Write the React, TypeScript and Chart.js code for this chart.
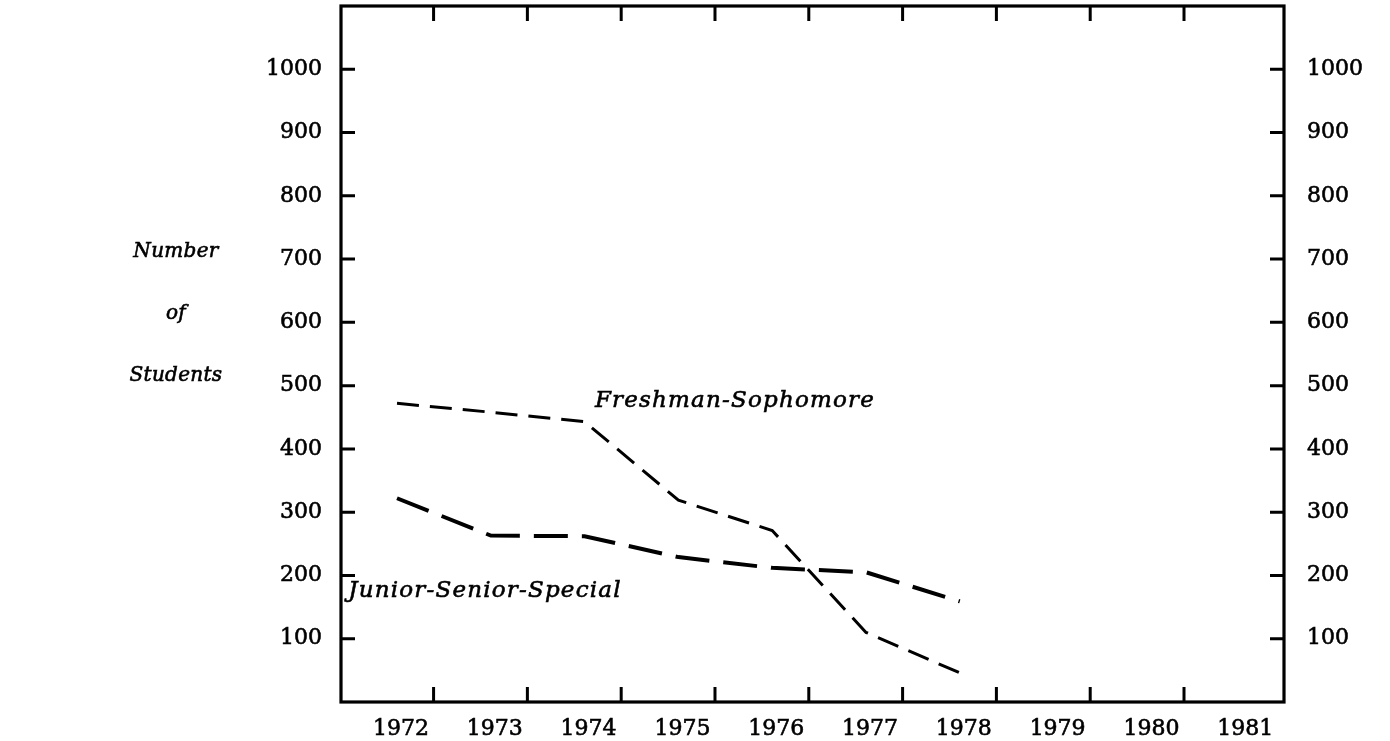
import React, { useEffect, useRef } from 'react';
import { Chart, registerables } from 'chart.js';

Chart.register(...registerables);

// ---- data ----
const years = [1972, 1973, 1974, 1975, 1976, 1977, 1978];
const freshmanSophomore = [472, 458, 443, 319, 271, 110, 46];
const juniorSeniorSpecial = [322, 263, 262, 229, 212, 205, 159];
const xTickLabels = [1972, 1973, 1974, 1975, 1976, 1977, 1978, 1979, 1980, 1981];
const yTickValues = [100, 200, 300, 400, 500, 600, 700, 800, 900, 1000];
const yAxisTitle = ['Number', 'of', 'Students'];
const seriesLabels = ['Freshman-Sophomore', 'Junior-Senior-Special'];

const X_MIN = 1971.403;
const X_MAX = 1981.456;
const Y_MIN = 0;
const Y_MAX = 1100;
const TICK_SHIFT = 0.39; // tick marks sit between year labels

const TICK_FONT = { family: '"DejaVu Serif", serif', size: 22 };

const decorPlugin = {
  id: 'decor',
  afterDraw(chart: any) {
    const { ctx, chartArea: a, scales } = chart;
    const x = scales.x;
    const y = scales.y;
    ctx.save();
    ctx.strokeStyle = '#000';
    ctx.lineCap = 'butt';
    // frame
    ctx.lineWidth = 3.2;
    ctx.strokeRect(a.left, a.top, a.right - a.left, a.bottom - a.top);
    // inward tick marks
    ctx.lineWidth = 3;
    ctx.beginPath();
    yTickValues.forEach((v) => {
      const py = y.getPixelForValue(v);
      ctx.moveTo(a.left, py);
      ctx.lineTo(a.left + 14, py);
      ctx.moveTo(a.right, py);
      ctx.lineTo(a.right - 14, py);
    });
    xTickLabels.slice(0, -1).forEach((v) => {
      const px = x.getPixelForValue(v + TICK_SHIFT);
      ctx.moveTo(px, a.bottom);
      ctx.lineTo(px, a.bottom - 15);
      ctx.moveTo(px, a.top);
      ctx.lineTo(px, a.top + 15);
    });
    ctx.stroke();

    // series labels
    ctx.fillStyle = '#000';
    ctx.strokeStyle = '#000';
    ctx.lineWidth = 0.6;
    ctx.textBaseline = 'middle';
    ctx.textAlign = 'left';
    ctx.font = 'italic 23px "DejaVu Serif", serif';
    (ctx as any).letterSpacing = '1.2px';
    const drawText = (t: string, px: number, py: number) => {
      ctx.fillText(t, px, py);
      ctx.strokeText(t, px, py);
    };
    drawText(seriesLabels[0], x.getPixelForValue(1974.11), y.getPixelForValue(476));
    drawText(seriesLabels[1], x.getPixelForValue(1971.48), y.getPixelForValue(175));

    // axis title (left, stacked)
    (ctx as any).letterSpacing = '0.3px';
    ctx.font = 'italic 20px "DejaVu Serif", serif';
    ctx.textAlign = 'center';
    const titleVals = [712, 614, 515];
    yAxisTitle.forEach((t, i) => {
      drawText(t, 176, y.getPixelForValue(titleVals[i]));
    });
    ctx.restore();
  },
};

export default function App() {
  const canvasRef = useRef<HTMLCanvasElement | null>(null);

  useEffect(() => {
    document.body.style.margin = '0';
    const canvas = canvasRef.current;
    if (!canvas) return;

    const yTicks = (scale: any) => {
      scale.ticks = yTickValues.map((v) => ({ value: v }));
    };
    const noPad = (scale: any) => {
      scale.paddingTop = 0;
      scale.paddingBottom = 0;
      scale.paddingLeft = 0;
      scale.paddingRight = 0;
    };
    const tickStyle = {
      color: '#000',
      font: TICK_FONT,
      textStrokeColor: '#000',
      textStrokeWidth: 0.6,
      callback: (v: any) => String(v),
    };

    const chart = new Chart(canvas, {
      type: 'line',
      data: {
        datasets: [
          {
            label: seriesLabels[0],
            data: years.map((yr, i) => ({ x: yr, y: freshmanSophomore[i] })),
            borderColor: '#000',
            borderWidth: 3,
            borderDash: [22, 11],
            pointRadius: 0,
            tension: 0,
            fill: false,
          },
          {
            label: seriesLabels[1],
            data: years.map((yr, i) => ({ x: yr, y: juniorSeniorSpecial[i] })),
            borderColor: '#000',
            borderWidth: 4,
            borderDash: [34, 14],
            pointRadius: 0,
            tension: 0,
            fill: false,
          },
        ],
      },
      options: {
        responsive: false,
        animation: false,
        devicePixelRatio: 1,
        layout: { padding: { top: 6, left: 0, right: 0, bottom: 0 } },
        plugins: {
          legend: { display: false },
          tooltip: { enabled: false },
        },
        scales: {
          x: {
            type: 'linear',
            position: 'bottom',
            min: X_MIN,
            max: X_MAX,
            afterBuildTicks: (scale: any) => {
              scale.ticks = xTickLabels.map((v) => ({ value: v }));
            },
            afterFit: (scale: any) => {
              scale.height = 39;
              noPad(scale);
            },
            grid: { display: false, drawTicks: false },
            border: { display: false },
            ticks: {
              ...tickStyle,
              autoSkip: false,
              maxRotation: 0,
              padding: 14,
              labelOffset: 4,
            },
          },
          y: {
            type: 'linear',
            position: 'left',
            min: Y_MIN,
            max: Y_MAX,
            afterBuildTicks: yTicks,
            afterFit: (scale: any) => {
              scale.width = 341;
              noPad(scale);
            },
            grid: { display: false, drawTicks: false },
            border: { display: false },
            ticks: { ...tickStyle, padding: 19 },
          },
          y2: {
            type: 'linear',
            position: 'right',
            min: Y_MIN,
            max: Y_MAX,
            afterBuildTicks: yTicks,
            afterFit: (scale: any) => {
              scale.width = 1390 - 1284;
              noPad(scale);
            },
            grid: { display: false, drawTicks: false },
            border: { display: false },
            ticks: { ...tickStyle, padding: 23 },
          },
        },
      },
      plugins: [decorPlugin],
    } as any);

    return () => {
      chart.destroy();
    };
  }, []);

  return (
    <div style={{ width: 1390, height: 741, background: '#fff' }}>
      <canvas ref={canvasRef} width={1390} height={741} style={{ display: 'block' }} />
    </div>
  );
}
